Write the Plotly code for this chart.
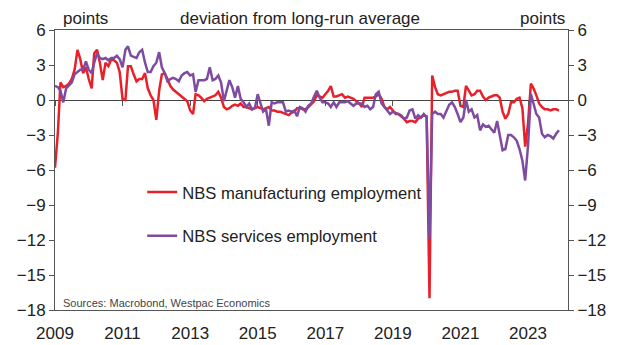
import pandas as pd
import plotly.graph_objects as go

# Monthly deviation from long-run average, Jan 2009 - Dec 2023 (points)
months = pd.date_range("2009-01-01", periods=180, freq="MS")

manufacturing = [
    -5.8, -2.8, 1.5, 1.1, 1.2, 1.4, 1.8, 2.6, 4.3, 3.5, 2.3, 2.8,
    1.8, 1.0, 4.0, 4.3, 3.2, 1.7, 3.2, 2.9, 3.5, 3.4, 3.2, 2.4,
    0.1, 0.0, 2.9, 2.9, 2.2, 1.6, 1.8, 1.8, 2.3, 1.0, 0.4, 0.0,
    -1.7, 0.8, 2.2, 2.3, 1.8, 1.2, 0.9, 0.7, 0.5, 0.3, 0.1, -0.1,
    -0.9, -1.2, 0.5, 0.4, 0.2, -0.1, 0.1, 0.2, 0.3, 0.4, 0.7, 0.2,
    -0.6, -0.8, -0.7, -0.5, -0.4, -0.5, -0.3, -0.6, -0.6, -0.7, -0.8, -0.7,
    -0.6, -0.7, -0.8, -0.7, -0.6, -0.9, -0.9, -1.0, -1.0, -1.1, -1.2, -1.3,
    -1.1, -1.0, -0.7, -0.7, -0.8, -0.8, -0.6, -0.3, -0.1, 0.4, 0.3, 0.2,
    0.5, 0.8, 1.2, 0.3, 0.3, 0.4, 0.5, 0.2, 0.3, 0.2, 0.1, -0.1,
    -0.3, -0.6, 0.2, 0.2, 0.2, 0.2, 0.3, 0.5, 0.1, -0.6, -0.8, -0.6,
    -0.9, -1.2, -1.2, -1.4, -1.6, -1.9, -1.8, -1.8, -1.9, -1.6, -1.5, -1.3,
    -1.4, -17.0, 2.1, 1.1, 0.5, 0.4, 0.5, 0.6, 0.7, 0.7, 0.8, 0.8,
    -0.5, -0.6, 1.2, 0.8, 0.4, 0.5, 0.8, 0.8, 0.3, 0.0, 0.2, 0.3,
    0.4, 0.4, 0.2, -1.0, -1.6, -1.2, -0.2, -0.2, 0.1, 0.2, -0.7, -4.0,
    -2.0, 1.4, 1.0, 0.4, -0.3, -0.6, -0.8, -0.8, -0.9, -0.8, -0.8, -0.9,
]

services = [
    1.2, 1.1, 0.8, -0.2, 1.0, 1.3, 1.5, 2.2, 2.4, 2.6, 2.6, 3.3,
    2.6, 2.3, 3.2, 4.0, 3.6, 3.5, 3.6, 3.4, 3.6, 3.6, 3.8, 3.5,
    2.8, 4.3, 4.6, 3.8, 3.7, 3.6, 4.1, 4.3, 3.2, 2.4, 2.4, 2.9,
    3.2, 4.1, 2.8, 2.3, 1.6, 1.8, 1.9, 1.8, 1.6, 2.1, 2.3, 2.4,
    2.1, 2.2, 0.7, 1.7, 1.7, 1.7, 1.8, 2.8, 1.7, 1.8, 2.1, 1.5,
    -0.1, 0.8, 1.7, 1.1, 0.2, 1.2, 0.1, -0.2, -0.6, -0.3, -0.8, -0.7,
    0.5, -0.3, -1.0, -0.8, -2.2, -0.2, -0.3, -0.2, -0.2, -0.2, -1.0, -0.9,
    -1.0, -0.9, -1.4, -0.6, -0.7, -1.0, -0.5, -0.3, 0.3, 0.8, 0.2, -0.2,
    -0.2, -0.3, -0.6, -0.2, -0.6, -0.2, -0.2, -0.2, -0.1, -0.3, -0.5, -0.3,
    -0.3, -0.3, -0.6, -0.5, -0.8, -0.6, 0.5, 0.7, -0.3, -0.6, -1.0, -1.2,
    -1.0, -1.1, -1.2, -1.3, -1.6, -1.5, -0.9, -0.8, -1.6, -1.3, -1.5, -1.2,
    -1.5, -11.9, -1.2, -1.0, -1.2, -1.2, -1.5, -0.9, -0.4, -0.2, -0.6, -1.2,
    -1.9, -1.5, 0.0, -1.0, -0.8, -1.5, -1.3, -2.6, -2.1, -2.3, -2.2, -2.5,
    -2.8, -1.8, -3.0, -4.3, -4.2, -3.0, -3.0, -3.2, -3.5, -4.2, -5.2, -6.9,
    -3.9, 0.5, -0.3, -1.2, -1.5, -2.9, -3.2, -3.0, -3.1, -3.3, -2.9, -2.6,
]

y_ticks = [6, 3, 0, -3, -6, -9, -12, -15, -18]

RED = "#E8202A"
PURPLE = "#7D4CA1"
AXIS = "#555555"
TEXT = "#222222"
FONT = "Liberation Sans, Arial, sans-serif"

fig = go.Figure()
fig.add_trace(go.Scatter(
    x=months, y=manufacturing, mode="lines", name="NBS manufacturing employment",
    line=dict(color=RED, width=2.5), legendgroup="m",
))
fig.add_trace(go.Scatter(
    x=months, y=services, mode="lines", name="NBS services employment",
    line=dict(color=PURPLE, width=2.5), legendgroup="s",
))

tick_font = dict(family=FONT, size=17, color=TEXT)

fig.update_layout(
    width=627, height=345,
    margin=dict(l=55, r=59, t=30, b=35),
    paper_bgcolor="white", plot_bgcolor="white",
    font=dict(family=FONT, color=TEXT),
    showlegend=True,
    legend=dict(
        x=0.17, y=0.483, xanchor="left", yanchor="top",
        bgcolor="rgba(0,0,0,0)", font=dict(family=FONT, size=16.6, color=TEXT),
        tracegroupgap=19, itemwidth=30,
    ),
    xaxis=dict(
        type="date", range=["2009-01-01", "2024-03-08"],
        tick0="2009-01-01", dtick="M24", tickformat="%Y",
        showgrid=False, showline=True, linecolor=AXIS, linewidth=1, mirror=True,
        ticks="", tickfont=tick_font, ticklabelstandoff=8, automargin=False,
    ),
    # tick marks sitting on the zero line
    xaxis2=dict(
        type="date", matches="x", overlaying="x", anchor="free", position=0.75,
        tick0="2009-01-01", dtick="M24", showticklabels=False, automargin=False,
        ticks="outside", ticklen=5, tickcolor=AXIS, showline=False, showgrid=False,
    ),
    yaxis=dict(
        range=[-18, 6], tickvals=y_ticks, showgrid=False, automargin=False,
        showline=True, linecolor=AXIS, linewidth=1, mirror=True,
        ticks="outside", ticklen=5, tickcolor=AXIS, tickfont=tick_font,
        zeroline=True, zerolinecolor="#444444", zerolinewidth=1,
    ),
    yaxis2=dict(
        range=[-18, 6], tickvals=y_ticks, overlaying="y", side="right",
        anchor="x", showgrid=False, zeroline=False, showline=False, automargin=False,
        ticks="outside", ticklen=5, tickcolor=AXIS, tickfont=tick_font,
    ),
)

# invisible trace to bring the zero-line tick axis into the figure
fig.add_trace(go.Scatter(x=[months[0]], y=[0], xaxis="x2", yaxis="y",
                         mode="markers", marker=dict(opacity=0),
                         showlegend=False, hoverinfo="skip"))
# invisible trace for the right-hand axis
fig.add_trace(go.Scatter(x=[months[0]], y=[0], yaxis="y2",
                         mode="markers", marker=dict(opacity=0),
                         showlegend=False, hoverinfo="skip"))

head_font = dict(family=FONT, size=17, color=TEXT)
fig.add_annotation(text="points", xref="paper", yref="paper", x=0.012, y=1.0,
                   xanchor="left", yanchor="bottom", showarrow=False, font=head_font)
fig.add_annotation(text="deviation from long-run average", xref="paper", yref="paper",
                   x=0.478, y=1.0, xanchor="center", yanchor="bottom", showarrow=False,
                   font=head_font)
fig.add_annotation(text="points", xref="paper", yref="paper", x=0.998, y=1.0,
                   xanchor="right", yanchor="bottom", showarrow=False, font=head_font)
fig.add_annotation(text="Sources: Macrobond, Westpac Economics", xref="paper", yref="paper",
                   x=0.012, y=0.015, xanchor="left", yanchor="bottom", showarrow=False,
                   font=dict(family=FONT, size=11, color="#444444"), yshift=-5)

fig.write_html("out.html")
